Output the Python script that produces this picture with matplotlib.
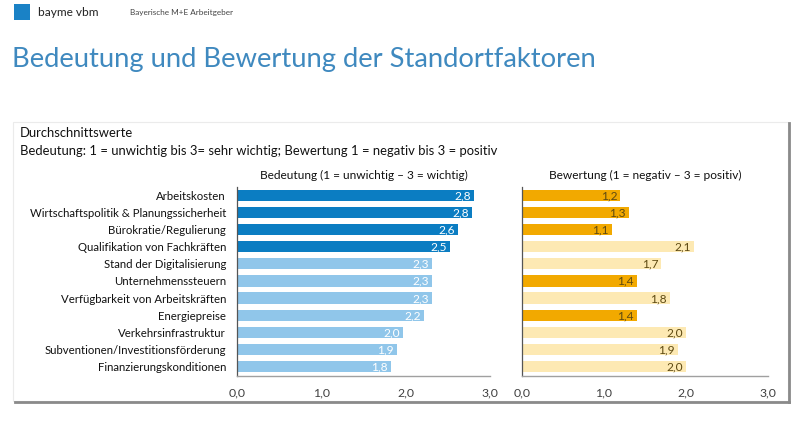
import matplotlib
matplotlib.use("Agg")
import matplotlib.pyplot as plt
from matplotlib.patches import Rectangle
import numpy as np

plt.rcParams['font.family'] = ['Lato', 'DejaVu Sans']

categories = [
    "Arbeitskosten",
    "Wirtschaftspolitik & Planungssicherheit",
    "Bürokratie/Regulierung",
    "Qualifikation von Fachkräften",
    "Stand der Digitalisierung",
    "Unternehmenssteuern",
    "Verfügbarkeit von Arbeitskräften",
    "Energiepreise",
    "Verkehrsinfrastruktur",
    "Subventionen/Investitionsförderung",
    "Finanzierungskonditionen",
]
bedeutung = [2.81, 2.79, 2.62, 2.53, 2.31, 2.31, 2.31, 2.22, 1.97, 1.90, 1.83]
bewertung = [1.20, 1.30, 1.10, 2.10, 1.70, 1.40, 1.80, 1.40, 2.00, 1.90, 2.00]
bedeutung_hi = [True, True, True, True, False, False, False, False, False, False, False]
bewertung_hi = [True, True, True, False, False, True, False, True, False, False, False]
xticks = [0, 1, 2, 3]
xticklabels = ["0,0", "1,0", "2,0", "3,0"]

W, H = 800, 426
fig = plt.figure(figsize=(8, 4.26), dpi=100)

def fx(px):
    return px / W

def fy(py):
    return 1 - py / H

# header
fig.patches.append(Rectangle((fx(14), fy(20)), fx(16), 16 / H, transform=fig.transFigure,
                             facecolor="#1A82C6", edgecolor="none"))
fig.text(fx(38), fy(13), "bayme vbm", fontsize=8.6, color="#222222", va="center", ha="left")
fig.text(fx(130), fy(13), "Bayerische M+E Arbeitgeber", fontsize=5.9, color="#444444",
         va="center", ha="left")
fig.text(fx(12), fy(59), "Bedeutung und Bewertung der Standortfaktoren", fontsize=19.7,
         color="#3F89BF", va="center", ha="left")

# box with shadow
fig.patches.append(Rectangle((fx(13), fy(401)), fx(775), (401 - 122) / H,
                             transform=fig.transFigure, facecolor="white",
                             edgecolor="#ebebeb", lw=0.8, zorder=-10))
fig.lines.append(plt.Line2D([fx(15), fx(789)], [fy(401.5), fy(401.5)], transform=fig.transFigure,
                            color="#8a8a8a", lw=2.0, zorder=-9))
fig.lines.append(plt.Line2D([fx(788.5), fx(788.5)], [fy(123), fy(402)], transform=fig.transFigure,
                            color="#8a8a8a", lw=2.0, zorder=-9))

fig.text(fx(20), fy(133), "Durchschnittswerte", fontsize=9.4, color="#111111", va="center")
fig.text(fx(20), fy(151),
         "Bedeutung: 1 = unwichtig bis 3= sehr wichtig; Bewertung 1 = negativ bis 3 = positiv",
         fontsize=9.4, color="#111111", va="center")

y = np.arange(len(categories))
ax_top, ax_bot = 187.5, 376

def make_axes(left_px, right_px):
    ax = fig.add_axes([fx(left_px), fy(ax_bot), (right_px - left_px) / W, (ax_bot - ax_top) / H])
    ax.set_xlim(0, 3.0)
    ax.set_ylim(len(categories) - 0.45, -0.45)
    for s in ["top", "right"]:
        ax.spines[s].set_visible(False)
    ax.spines["left"].set_color("#555555")
    ax.spines["left"].set_linewidth(0.9)
    ax.spines["bottom"].set_color("#a0a0a0")
    ax.spines["bottom"].set_linewidth(1.0)
    ax.set_xticks(xticks)
    ax.set_xticklabels(xticklabels)
    ax.tick_params(axis="x", length=0, pad=8, labelsize=8.8, labelcolor="#404040")
    ax.set_facecolor("none")
    return ax

ax1 = make_axes(237, 490)
c1 = ["#0B7DC2" if h else "#90C6EA" for h in bedeutung_hi]
ax1.barh(y, bedeutung, height=0.66, color=c1)
ax1.set_yticks(y)
ax1.set_yticklabels(categories)
ax1.tick_params(axis="y", length=0, pad=8, labelsize=8.2, labelcolor="#111111")
for yi, v in zip(y, bedeutung):
    ax1.text(v - 0.04, yi + 0.03, f"{v:.1f}".replace(".", ","), ha="right", va="center",
             fontsize=8.6, color="white")
ax1.set_title("Bedeutung (1 = unwichtig – 3 = wichtig)", fontsize=8.6, color="#111111", pad=6)

ax2 = make_axes(522, 768)
c2 = ["#F2A900" if h else "#FDE9B3" for h in bewertung_hi]
ax2.barh(y, bewertung, height=0.66, color=c2)
ax2.set_yticks([])
for yi, v in zip(y, bewertung):
    ax2.text(v - 0.04, yi + 0.03, f"{v:.1f}".replace(".", ","), ha="right", va="center",
             fontsize=8.6, color="#5E4A12")
ax2.set_title("Bewertung (1 = negativ – 3 = positiv)", fontsize=8.6, color="#111111", pad=6)

fig.savefig("out.png", dpi=100)
